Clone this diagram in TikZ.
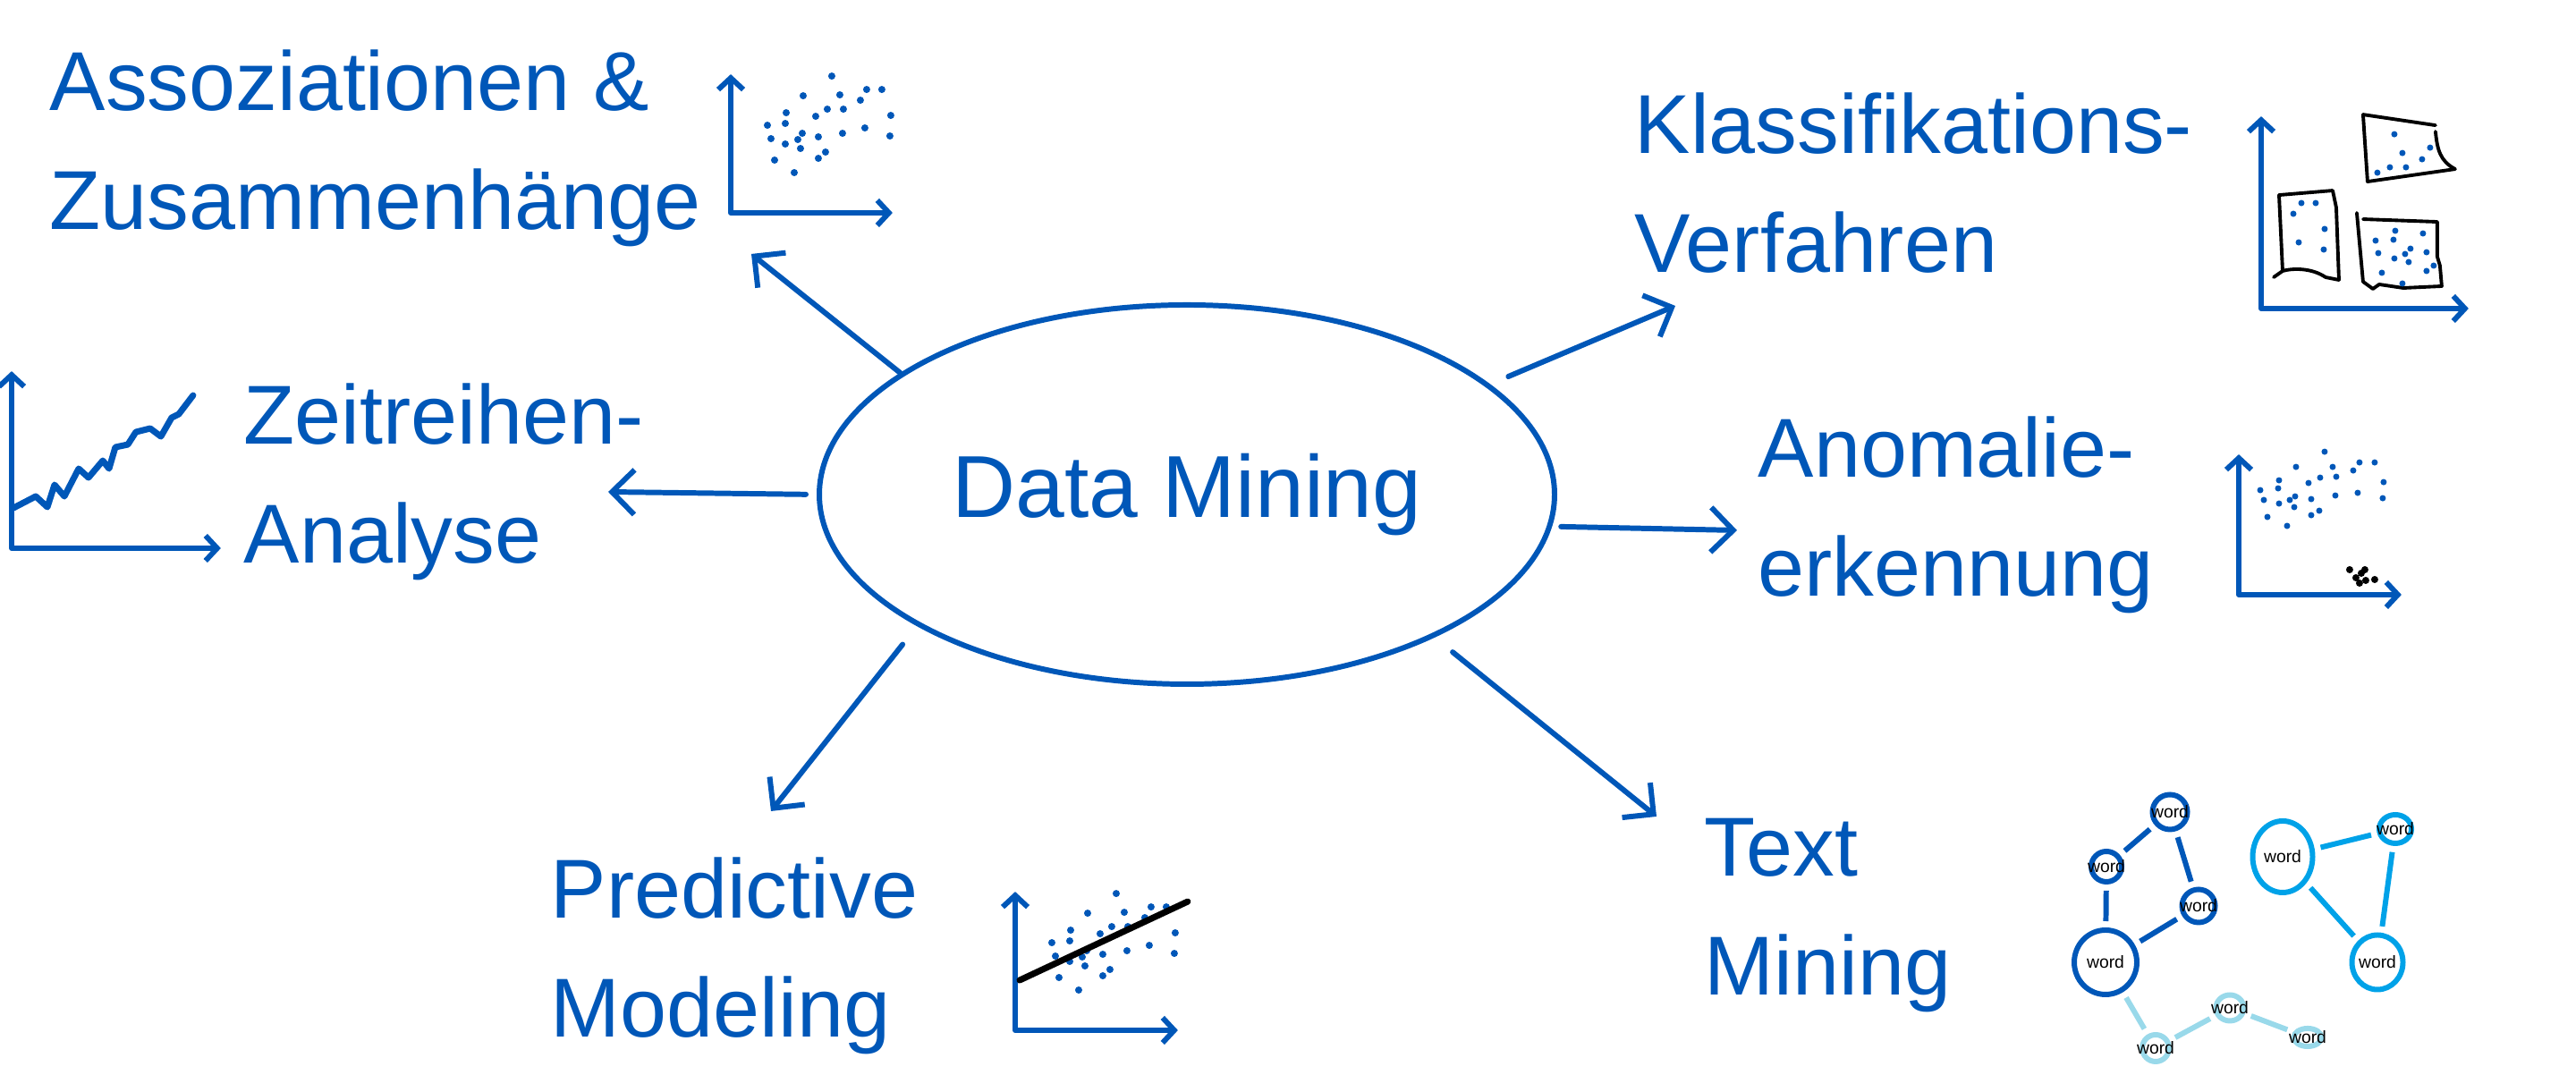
\documentclass[tikz,border=0pt]{standalone}
\usepackage{fontspec}
\setmainfont{Liberation Sans}
\usepackage{tikz}
\usetikzlibrary{positioning, arrows.meta, shapes.geometric}
\definecolor{inkblue}{HTML}{0057B8}
\definecolor{cyanw}{HTML}{00A2E8}
\definecolor{palew}{HTML}{99D9EA}
\newcommand{\wordlbl}{\makebox[0pt]{word}}
\newcommand{\scatterpts}{113/153, 81/131, 122/132, 152/138, 169/138, 145/126,
  108/116, 126/116, 62/112, 95/108, 179/109, 41/98, 61/100, 150/95, 125/89,
  80/89, 98/85, 178/86, 45/83, 75/82, 61/77, 78/72, 106/68, 98/61, 49/59, 71/45}
\tikzset{
  topic/.style={anchor=base west, align=left, text=inkblue, inner sep=0pt,
                font=\fontsize{26.6}{38}\selectfont},
  arr/.style={-{Straight Barb[length=2.5mm, width=5mm]}, draw=inkblue,
              line width=1.7pt, line cap=round, line join=round},
  axis/.style={{Straight Barb[length=1.3mm, width=2.8mm]}-{Straight Barb[length=1.3mm, width=2.8mm]},
               draw=inkblue, line width=1.7pt, line join=round},
  wordnode/.style={ellipse, draw, line width=1.7pt, inner sep=0pt,
                   font=\fontsize{5.5}{6}\selectfont},
  link/.style={line width=1.7pt, shorten <=0.7mm, shorten >=0.7mm},
  sketch/.style={draw=black, line width=1.1pt, line join=round, line cap=round},
}

\begin{document}
\begin{tikzpicture}
  \useasboundingbox (0,0) rectangle (28.8,12.02);

  % centre
  \node[ellipse, draw=inkblue, line width=1.7pt, minimum width=8.22cm,
        minimum height=4.24cm, inner sep=0pt, text=inkblue,
        font=\fontsize{28}{30}\selectfont] (dm) at (13.27,6.49) {Data Mining};

  % topics (anchored on the last line)
  \node[topic] (assoz) at (0.55,9.45) {Assoziationen \&\\Zusammenhänge};
  \node[topic] (klass) at (18.27,8.97) {Klassifikations-\\Verfahren};
  \node[topic] (zeit) at (2.72,5.72) {Zeitreihen-\\Analyse};
  \node[topic] (anom) at (19.65,5.35) {Anomalie-\\erkennung};
  \node[topic] (pred) at (6.15,0.42) {Predictive\\Modeling};
  \node[topic] (textm) at (19.05,0.89) {Text\\Mining};

  % arrows
  \coordinate (tipAssoz) at (8.40,9.18);
  \coordinate (tipZeit) at (6.80,6.52);
  \coordinate (tipPred) at (8.62,2.95);
  \coordinate (tipKlass) at (18.73,8.60);
  \coordinate (tipAnom) at (19.42,6.09);
  \coordinate (tipText) at (18.52,2.89);
  \draw[arr] (dm.157) -- (tipAssoz);
  \draw[arr, shorten <=1.2mm] (dm.180) -- (tipZeit);
  \draw[arr, shorten <=2.6mm] (dm.206) -- (tipPred);
  \draw[arr, shorten <=2.2mm] (dm.20) -- (tipKlass);
  \draw[arr, shorten <=1mm] (dm.355) -- (tipAnom);
  \draw[arr, shorten <=2.6mm] (dm.330) -- (tipText);

  % scatter icon
  \begin{scope}[shift={(8.17,9.64)}, x=0.01cm, y=0.01cm]
    \draw[axis] (0,155) -- (0,0) -- (181,0);
    \foreach \px/\py in \scatterpts
      \fill[inkblue] (\px,\py) circle[radius=0.04cm];
  \end{scope}

  % regression icon
  \begin{scope}[shift={(11.35,0.50)}, x=0.01cm, y=0.01cm]
    \draw[axis] (0,155) -- (0,0) -- (182,0);
    \foreach \px/\py in \scatterpts
      \fill[inkblue] (\px,\py) circle[radius=0.04cm];
    \draw[black, line width=2pt, line cap=round] (5,56) -- (193,144);
  \end{scope}

  % time series icon
  \begin{scope}[shift={(0.13,5.89)}, x=0.01cm, y=0.01cm]
    \draw[axis] (0,198) -- (0,0) -- (234,0);
    \draw[inkblue, line width=2pt, line join=round, line cap=round]
      (2,45) -- (27,58) -- (40,46) -- (48,71) -- (59,58) -- (75,89) -- (86,79)
      -- (102,98) -- (109,89) -- (116,113) -- (130,116) -- (139,130)
      -- (155,134) -- (167,125) -- (179,146) -- (187,150) -- (203,171);
  \end{scope}

  % outlier icon
  \begin{scope}[shift={(25.03,5.37)}, x=0.01cm, y=0.01cm]
    \draw[axis] (0,157) -- (0,0) -- (182,0);
    \foreach \px/\py in {96/160, 64/143, 105/143, 135/148, 152/148, 128/139,
        91/131, 109/132, 45/128, 78/125, 162/126, 24/117, 44/119, 133/114,
        108/111, 63/110, 81/107, 161/108, 28/106, 57/106, 45/102, 62/98,
        90/94, 81/89, 32/87, 54/77}
      \fill[inkblue] (\px,\py) circle[radius=0.035cm];
    \foreach \px/\py in {124/28, 141/28, 137/24, 131/19, 135/13, 142/16, 152/17}
      \fill[black] (\px,\py) circle[radius=0.04cm];
  \end{scope}

  % cluster icon
  \begin{scope}[shift={(25.28,8.57)}, x=0.01cm, y=0.01cm]
    \draw[axis] (0,215) -- (0,0) -- (232,0);
    \draw[sketch] (114,217) -- (195,205);
    \draw[sketch] (195,198) .. controls (197,178) and (200,165) .. (217,156)
      -- (119,142) -- (114,217);
    \draw[sketch] (20,127) -- (80,132) -- (84,113) -- (87,32);
    \draw[sketch] (20,127) -- (24,42);
    \draw[sketch] (14,35) -- (24,42) .. controls (34,45) and (56,46) .. (72,35)
      -- (87,32);
    \draw[sketch] (107,107) -- (114,30) -- (125,22) -- (132,27) -- (159,23)
      -- (202,25) -- (200,48) -- (197,58) -- (197,97) -- (114,100);
    \foreach \px/\py in {149/195, 189/180, 158/174, 180/167, 144/158, 162/158,
        130/152, 45/118, 61/118, 36/106, 71/89, 42/74, 70/66, 150/87, 181/84,
        128/76, 148/77, 167/67, 185/63, 131/62, 161/61, 149/56, 165/52, 193/48,
        185/42, 135/40, 158/28}
      \fill[inkblue] (\px,\py) circle[radius=0.035cm];
  \end{scope}

  % word graph
  \node[wordnode, draw=inkblue, minimum width=0.39cm, minimum height=0.39cm] (w1) at (24.26,2.94) {\wordlbl};
  \node[wordnode, draw=inkblue, minimum width=0.34cm, minimum height=0.34cm] (w2) at (23.55,2.33) {\wordlbl};
  \node[wordnode, draw=inkblue, minimum width=0.37cm, minimum height=0.37cm] (w3) at (24.58,1.89) {\wordlbl};
  \node[wordnode, draw=inkblue, minimum width=0.70cm, minimum height=0.72cm] (w4) at (23.54,1.26) {\wordlbl};
  \node[wordnode, draw=cyanw, minimum width=0.67cm, minimum height=0.80cm] (w5) at (25.52,2.44) {\wordlbl};
  \node[wordnode, draw=cyanw, minimum width=0.36cm, minimum height=0.32cm] (w6) at (26.78,2.75) {\wordlbl};
  \node[wordnode, draw=cyanw, minimum width=0.57cm, minimum height=0.61cm] (w7) at (26.58,1.26) {\wordlbl};
  \node[wordnode, draw=palew, minimum width=0.30cm, minimum height=0.30cm] (w8) at (24.10,0.30) {\wordlbl};
  \node[wordnode, draw=palew, minimum width=0.31cm, minimum height=0.29cm] (w9) at (24.93,0.75) {\wordlbl};
  \node[wordnode, draw=palew, minimum width=0.31cm, minimum height=0.18cm] (w10) at (25.80,0.42) {\wordlbl};
  \draw[link, inkblue] (w1) -- (w2);
  \draw[link, inkblue] (w1) -- (w3);
  \draw[link, inkblue] (w2) -- (w4);
  \draw[link, inkblue] (w3) -- (w4);
  \draw[link, cyanw] (w5) -- (w6);
  \draw[link, cyanw] (w6) -- (w7);
  \draw[link, cyanw] (w5) -- (w7);
  \draw[link, palew] (w4) -- (w8);
  \draw[link, palew] (w8) -- (w9);
  \draw[link, palew] (w9) -- (w10);
\end{tikzpicture}
\end{document}
